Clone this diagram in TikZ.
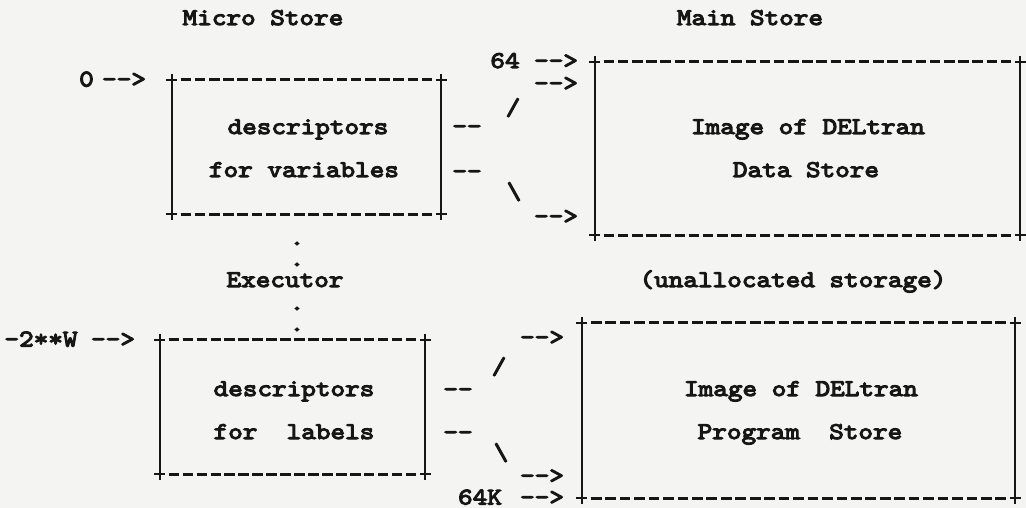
\documentclass[tikz,border=0pt]{standalone}
\usepackage{fontspec}
\usetikzlibrary{calc}
\setmonofont{lmmono10-regular.otf}[FakeStretch=1.16, FakeBold=4.5]
\definecolor{paper}{RGB}{244,244,242}
\definecolor{ink}{RGB}{22,22,22}
\begin{document}
\begin{tikzpicture}[x=1pt,y=-1pt,
  tw/.style={font=\ttfamily\fontsize{24}{28}\selectfont, text=ink, inner sep=0pt, anchor=base},
  ptr/.style={tw, text height=9pt, text depth=0pt},
  dot/.style={tw, FakeBold, text height=3pt, text depth=0pt},
  FakeBold/.style={},
  region/.style={rectangle, inner sep=0pt, draw=none},
  rule/.style={draw=ink, line width=2.5pt},
  dashrule/.style={draw=ink, line width=2.8pt},
]
\fill[paper] (0,0) rectangle (1026,508);
\useasboundingbox (0,0) rectangle (1026,508);

% the four storage areas
\node[region, minimum width=269pt, minimum height=134pt] (vars) at (306.5,147) {};
\node[region, minimum width=425pt, minimum height=173pt] (data) at (807.5,148.5) {};
\node[region, minimum width=265pt, minimum height=134pt] (labs) at (292.5,407) {};
\node[region, minimum width=433pt, minimum height=175pt] (prog) at (798.5,410.5) {};

% outlines: solid sides, typed dashes along top and bottom, crossed corners
\foreach \b/\n in {vars/18, data/29, labs/18, prog/29}{
  \draw[rule] ([yshift=6pt]\b.north west) -- ([yshift=-6pt]\b.south west);
  \draw[rule] ([yshift=6pt]\b.north east) -- ([yshift=-6pt]\b.south east);
  \foreach \c in {north west, north east, south west, south east}
    \draw[rule] ([xshift=-5.5pt]\b.\c) -- ([xshift=5.5pt]\b.\c);
  \foreach \w/\e in {north west/north east, south west/south east}
    \foreach \k in {1,...,\n}{
      \pgfmathsetmacro\ta{(\k-0.37)/(\n+1)}
      \pgfmathsetmacro\tb{(\k+0.37)/(\n+1)}
      \draw[dashrule] ($(\b.\w)!\ta!(\b.\e)$) -- ($(\b.\w)!\tb!(\b.\e)$);
    }
}

% headings
\node[tw] (tmicro) at (263,25) {Micro Store};
\node[tw] (tmain) at (750,25) {Main Store};
\node[tw] (texec) at (285,287) {Executor};
\node[tw] (tfree) at (793,287) {(unallocated storage)};

% box contents
\node[tw] (v1) at (308,134) {descriptors};
\node[tw] (v2) at (304,177) {for variables};
\node[tw] (d1) at (808,134) {Image of DELtran};
\node[tw] (d2) at (806,177) {Data Store};
\node[tw] (l1) at (294,396) {descriptors};
\node[tw] (l2) at (294,439) {for\ \ labels};
\node[tw] (p1) at (801,396) {Image of DELtran};
\node[tw] (p2) at (800,439) {Program\ \ Store};

% addresses
\node[tw] (a0) at (86.5,86.5) {0};
\node[ptr] (a0r) at (124,86.5) {-{}->};
\node[tw] (a64) at (505,68) {64};
\node[ptr] (a64r) at (556,68) {-{}->};
\node[tw] (aw) at (41,346.5) {-2**W};
\node[ptr] (awr) at (113,346.5) {-{}->};
\node[tw] (a64k) at (480,504.5) {64K};
\node[ptr] (a64kr) at (542,504.5) {-{}->};

% upper pointer fan
\node[ptr] (u1) at (556,90.5) {-{}->};
\node[tw] (u2) at (513,115) {/};
\node[ptr] (u3) at (467,133.5) {-{}-};
\node[ptr] (u4) at (467,178.5) {-{}-};
\node[tw] (u5) at (514,199) {\textbackslash};
\node[ptr] (u6) at (556,223.5) {-{}->};

% lower pointer fan
\node[ptr] (w1) at (542,344.5) {-{}->};
\node[tw] (w2) at (499,374) {/};
\node[ptr] (w3) at (458,396.5) {-{}-};
\node[ptr] (w4) at (458,439.5) {-{}-};
\node[tw] (w5) at (501,460) {\textbackslash};
\node[ptr] (w6) at (542,483) {-{}->};

% continuation dots
\node[dot] (c1) at (297,245) {.};
\node[dot] (c2) at (297,266) {.};
\node[dot] (c3) at (297,310) {.};
\node[dot] (c4) at (297,331) {.};
\end{tikzpicture}
\end{document}
